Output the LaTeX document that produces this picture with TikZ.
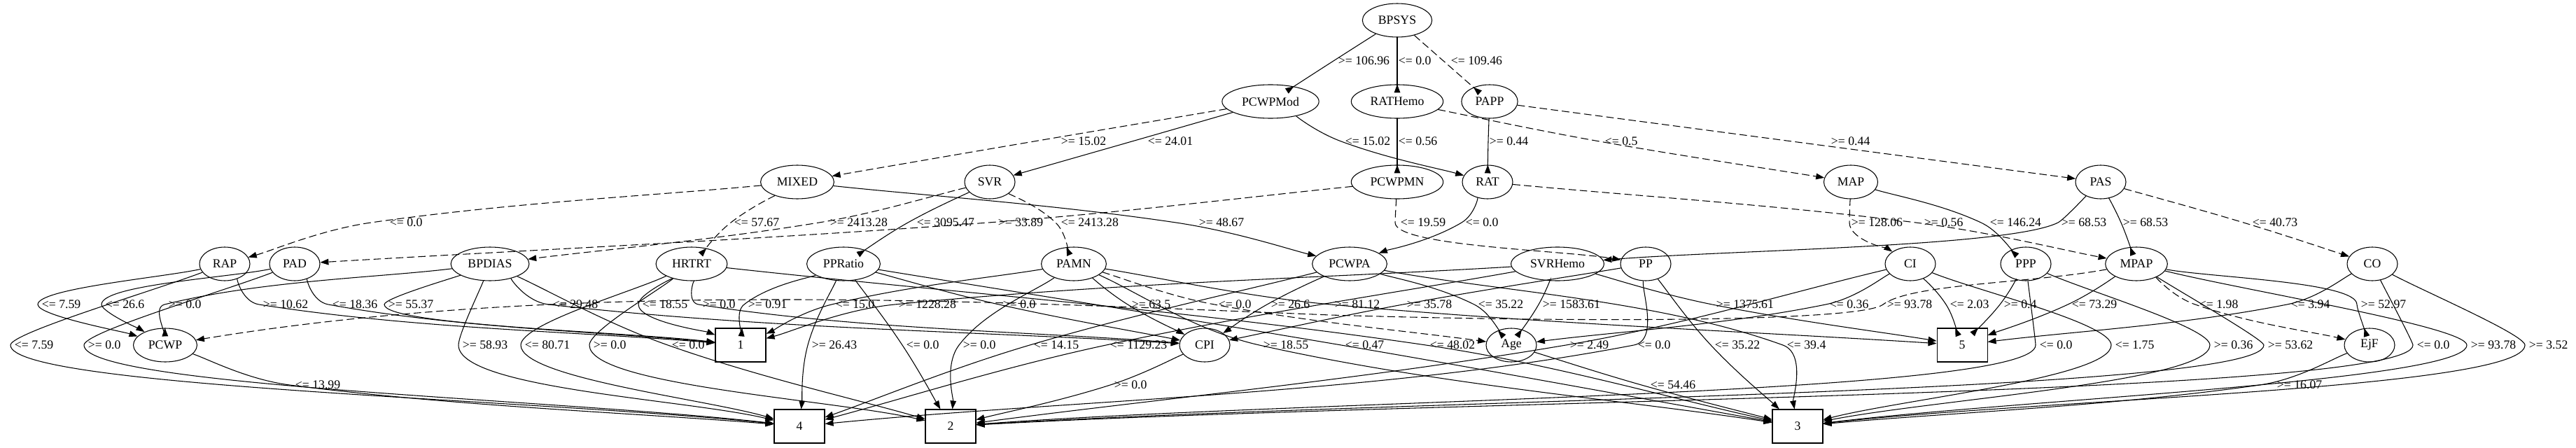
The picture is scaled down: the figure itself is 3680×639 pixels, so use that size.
\documentclass[tikz,border=0pt]{standalone}
\usepackage{fontspec}
\setmainfont{Liberation Serif}
\usetikzlibrary{arrows.meta,calc,shapes.geometric,backgrounds}

% edge that passes through the point where its test label sits
% #1 style, #2 from, #3 to, #4 label point, #5 sideways share of the tangent, #6 label gap, #7 text
\newcommand\splitedge[7][wire]{%
  \draw[#1] let \p1=(#2), \p2=(#3), \p3=(#4),
      \n1={veclen((\x3)-(\x1),(\y3)-(\y1))}, \n2={veclen((\x2)-(\x3),(\y2)-(\y3))},
      \n3={(\n1)/(3*((\n1)+(\n2)))}, \n4={(\n2)/(3*((\n1)+(\n2)))} in
    (#2) .. controls ($(#2)!1/3!(#4)$)
      and ({\x3-\n3*#5*((\x2)-(\x1))}, {\y3-\n3*((\y2)-(\y1))}) .. (#4)
      node[cond, xshift={#6*0.75pt}] {#7}
    .. controls ({\x3+\n4*#5*((\x2)-(\x1))}, {\y3+\n4*((\y2)-(\y1))})
      and ($(#3)!1/3!(#4)$) .. (#3);}

\begin{document}
\begin{tikzpicture}[x=0.75pt, y=-0.75pt, font=\fontsize{13.3}{15}\selectfont]
  \tikzset{
    attr/.style={ellipse, draw, line width=0.8pt, minimum width=54pt, minimum height=36pt, inner xsep=6pt, inner ysep=2pt},
    leaf/.style={draw, line width=0.8pt, minimum width=54pt, minimum height=36pt},
    wire/.style={line width=0.8pt, -{Triangle[length=9pt,width=6.5pt]}},
    wirealt/.style={wire, dash pattern=on 8pt off 4pt},
    cond/.style={anchor=west, inner sep=1pt}}
  \useasboundingbox (0,0) rectangle (3680,639);

  % upper tests
  \node[attr] (BPSYS) at (1996,29) {BPSYS};
  \node[attr] (PCWPMod) at (1815,145) {PCWPMod};
  \node[attr] (RATHemo) at (1996,145) {RATHemo};
  \node[attr] (PAPP) at (2128,145) {PAPP};
  \node[attr] (MIXED) at (1139,260) {MIXED};
  \node[attr] (SVR) at (1414,260) {SVR};
  \node[attr] (PCWPMN) at (1996,260) {PCWPMN};
  \node[attr] (RAT) at (2125,260) {RAT};
  \node[attr] (MAP) at (2644,260) {MAP};
  \node[attr] (PAS) at (3001,260) {PAS};

  % middle tests
  \node[attr] (RAP) at (321,377) {RAP};
  \node[attr] (PAD) at (421,377) {PAD};
  \node[attr] (BPDIAS) at (700,377) {BPDIAS};
  \node[attr] (HRTRT) at (988,377) {HRTRT};
  \node[attr] (PPRatio) at (1205,377) {PPRatio};
  \node[attr] (PAMN) at (1534,377) {PAMN};
  \node[attr] (PCWPA) at (1928,377) {PCWPA};
  \node[attr] (SVRHemo) at (2225,377) {SVRHemo};
  \node[attr] (PP) at (2351,377) {PP};
  \node[attr] (CI) at (2729,377) {CI};
  \node[attr] (PPP) at (2894,377) {PPP};
  \node[attr] (MPAP) at (3052,377) {MPAP};
  \node[attr] (CO) at (3389,377) {CO};

  % lower tests and classes
  \node[attr] (PCWP) at (236,493) {PCWP};
  \node[leaf] (b1) at (1058,493) {1};
  \node[attr] (CPI) at (1721,493) {CPI};
  \node[attr] (Age) at (2159,493) {Age};
  \node[leaf] (b5) at (2803,493) {5};
  \node[attr] (EjF) at (3385,493) {EjF};
  \node[leaf] (b4) at (1142,609) {4};
  \node[leaf] (b2) at (1358,609) {2};
  \node[leaf] (b3) at (2568,609) {3};

  \begin{scope}[on background layer]
  % top levels
  \splitedge{BPSYS}{PCWPMod}{1905,87}{1}{5}{>= 106.96}
  \splitedge{BPSYS}{RATHemo}{1996,87}{1}{0}{<= 0.0}
  \splitedge[wirealt]{BPSYS}{PAPP}{2062,87}{1}{9}{<= 109.46}
  \splitedge[wirealt]{PCWPMod}{MIXED}{1477,202}{1}{37}{>= 15.02}
  \splitedge{PCWPMod}{SVR}{1617,202}{1}{21}{<= 24.01}
  \splitedge{PCWPMod}{RAT}{1916,202}{1}{4}{<= 15.02}
  \splitedge{RATHemo}{PCWPMN}{1996,202}{1}{0}{<= 0.56}
  \splitedge{PAPP}{RAT}{2126,202}{1}{0}{>= 0.44}
  \splitedge[wirealt]{RATHemo}{MAP}{2285,202}{1}{6}{<= 0.5}
  \splitedge[wirealt]{PAPP}{PAS}{2560,202}{1}{54}{>= 0.44}

  \splitedge[wirealt]{MIXED}{RAP}{530,318}{1}{25}{<= 0.0}
  \splitedge[wirealt]{MIXED}{HRTRT}{1044,318}{1}{3}{<= 57.67}
  \splitedge[wirealt]{SVR}{BPDIAS}{1170,318}{1}{14}{>= 2413.28}
  \splitedge{SVR}{PPRatio}{1297,318}{1}{11}{<= 3095.47}
  \splitedge[wirealt]{PCWPMN}{PAD}{1412,318}{1}{12}{>= 33.89}
  \splitedge[wirealt]{SVR}{PAMN}{1508,318}{1}{6}{<= 2413.28}
  \splitedge{MIXED}{PCWPA}{1680,318}{1}{31}{>= 48.67}
  \splitedge[wirealt]{PCWPMN}{PP}{1993,318}{0}{6}{<= 19.59}
  \splitedge{RAT}{PCWPA}{2088,318}{1}{4}{<= 0.0}
  \splitedge[wirealt]{MAP}{CI}{2642,318}{0}{1}{>= 128.06}
  \splitedge[wirealt]{RAT}{MPAP}{2737,318}{1}{10}{>= 0.56}
  \splitedge{MAP}{PPP}{2830,318}{1}{11}{<= 146.24}
  \splitedge{PAS}{SVRHemo}{2940,318}{0.3}{3}{>= 68.53}
  \splitedge{PAS}{MPAP}{3030,318}{1}{1}{>= 68.53}
  \splitedge[wirealt]{PAS}{CO}{3205,318}{1}{11}{<= 40.73}

  % middle tests to the next level
  \splitedge{RAP}{PCWP}{54,435}{0}{4}{<= 7.59}
  \splitedge{PAD}{PCWP}{145,435}{0}{4}{<= 26.6}
  \splitedge{BPDIAS}{PCWP}{235,435}{1}{4}{>= 0.0}
  \splitedge{RAP}{b1}{370,435}{1}{4}{>= 10.62}
  \splitedge{PAD}{b1}{469,435}{1}{4}{<= 18.36}
  \splitedge{BPDIAS}{b1}{549,435}{0}{4}{>= 55.37}
  \splitedge{BPDIAS}{CPI}{784,435}{1}{4}{<= 29.48}
  \splitedge{HRTRT}{b1}{912,435}{0}{4}{<= 18.55}
  \splitedge{HRTRT}{CPI}{998,435}{1}{4}{>= 0.0}
  \splitedge{PPRatio}{b1}{1063,435}{1}{4}{>= 0.91}
  \splitedge{PAMN}{b1}{1188,435}{1}{4}{<= 15.0}
  \splitedge{SVRHemo}{b1}{1278,435}{1}{4}{>= 1228.28}
  \splitedge{PPRatio}{CPI}{1427,435}{1}{4}{>= 0.0}
  \splitedge{PAMN}{CPI}{1611,435}{1}{4}{>= 63.5}
  \splitedge[wirealt]{PAMN}{Age}{1735,435}{1}{4}{<= 0.0}
  \splitedge{PCWPA}{CPI}{1810,435}{1}{4}{>= 26.6}
  \splitedge{PAMN}{b5}{1901,435}{1}{4}{>= 81.12}
  \splitedge{PP}{CPI}{2004,435}{1}{4}{>= 35.78}
  \splitedge{PCWPA}{Age}{2106,435}{1}{4}{<= 35.22}
  \splitedge{SVRHemo}{Age}{2198,435}{1}{4}{>= 1583.61}
  \splitedge{SVRHemo}{b5}{2446,435}{1}{4}{>= 1375.61}
  \splitedge{CI}{Age}{2608,435}{1}{4}{<= 0.36}
  % the long dashed branch runs above Age and box 1
  \draw[wirealt] (MPAP) .. controls (2900,405) and (2730,405) .. (2690,435)
      node[cond, xshift=3pt] {>= 93.78}
    .. controls (2660,458) and (2300,462) .. (1900,450)
    .. controls (1400,430) and (800,400) .. (PCWP);
  \splitedge{CI}{b5}{2780,435}{1}{4}{<= 2.03}
  \splitedge{PPP}{b5}{2857,435}{1}{4}{>= 0.4}
  \splitedge{MPAP}{b5}{2954,435}{1}{4}{<= 73.29}
  \splitedge[wirealt]{MPAP}{EjF}{3136,435}{1}{4}{<= 1.98}
  \splitedge{CO}{b5}{3267,435}{1}{4}{<= 3.94}
  \splitedge{MPAP}{EjF}{3367,435}{0}{4}{>= 52.97}

  % middle tests straight to the bottom classes
  \splitedge{RAP}{b4}{15,493}{0}{4}{<= 7.59}
  \splitedge{PAD}{b4}{120,493}{0}{4}{>= 0.0}
  \splitedge{BPDIAS}{b4}{655,493}{0}{4}{>= 58.93}
  \splitedge{HRTRT}{b4}{744,493}{0}{4}{<= 80.71}
  \splitedge{HRTRT}{b2}{842,493}{0}{4}{>= 0.0}
  \splitedge{BPDIAS}{b2}{954,493}{1}{4}{<= 0.0}
  \splitedge{PPRatio}{b4}{1154,493}{1}{4}{>= 26.43}
  \splitedge{PPRatio}{b2}{1289,493}{1}{4}{<= 0.0}
  \splitedge{PAMN}{b2}{1370,493}{1}{4}{>= 0.0}
  \splitedge{PCWPA}{b4}{1471,493}{1}{4}{<= 14.15}
  \splitedge{SVRHemo}{b4}{1580,493}{1}{4}{<= 1129.23}
  \splitedge{PAMN}{b3}{1799,493}{1}{4}{>= 18.55}
  \splitedge{PPRatio}{b3}{1916,493}{1}{4}{<= 0.47}
  \splitedge{HRTRT}{b3}{2037,493}{1}{4}{<= 48.02}
  \splitedge{CI}{b2}{2237,493}{1}{4}{>= 2.49}
  \splitedge{PP}{b4}{2334,493}{1}{4}{<= 0.0}
  \splitedge{PP}{b3}{2444,493}{1}{4}{<= 35.22}
  \splitedge{PCWPA}{b3}{2547,493}{1}{4}{<= 39.4}
  \splitedge{PPP}{b2}{2908,493}{0}{4}{<= 0.0}
  \splitedge{CI}{b3}{3016,493}{0}{4}{<= 1.75}
  \splitedge{PPP}{b3}{3157,493}{0}{4}{>= 0.36}
  \splitedge{MPAP}{b2}{3234,493}{0}{4}{>= 53.62}
  \splitedge{CO}{b2}{3447,493}{0}{4}{<= 0.0}
  \splitedge{MPAP}{b3}{3524,493}{0}{4}{>= 93.78}
  \splitedge{CO}{b3}{3607,493}{0}{4}{>= 3.52}

  % lower tests to the classes
  \splitedge{PCWP}{b4}{414,550}{1}{6}{<= 13.99}
  \splitedge{CPI}{b2}{1586,550}{1}{4}{>= 0.0}
  \splitedge{Age}{b3}{2345,550}{1}{11}{<= 54.46}
  \splitedge{EjF}{b3}{3228,550}{1}{23}{>= 16.07}
  \end{scope}
\end{tikzpicture}
\end{document}
